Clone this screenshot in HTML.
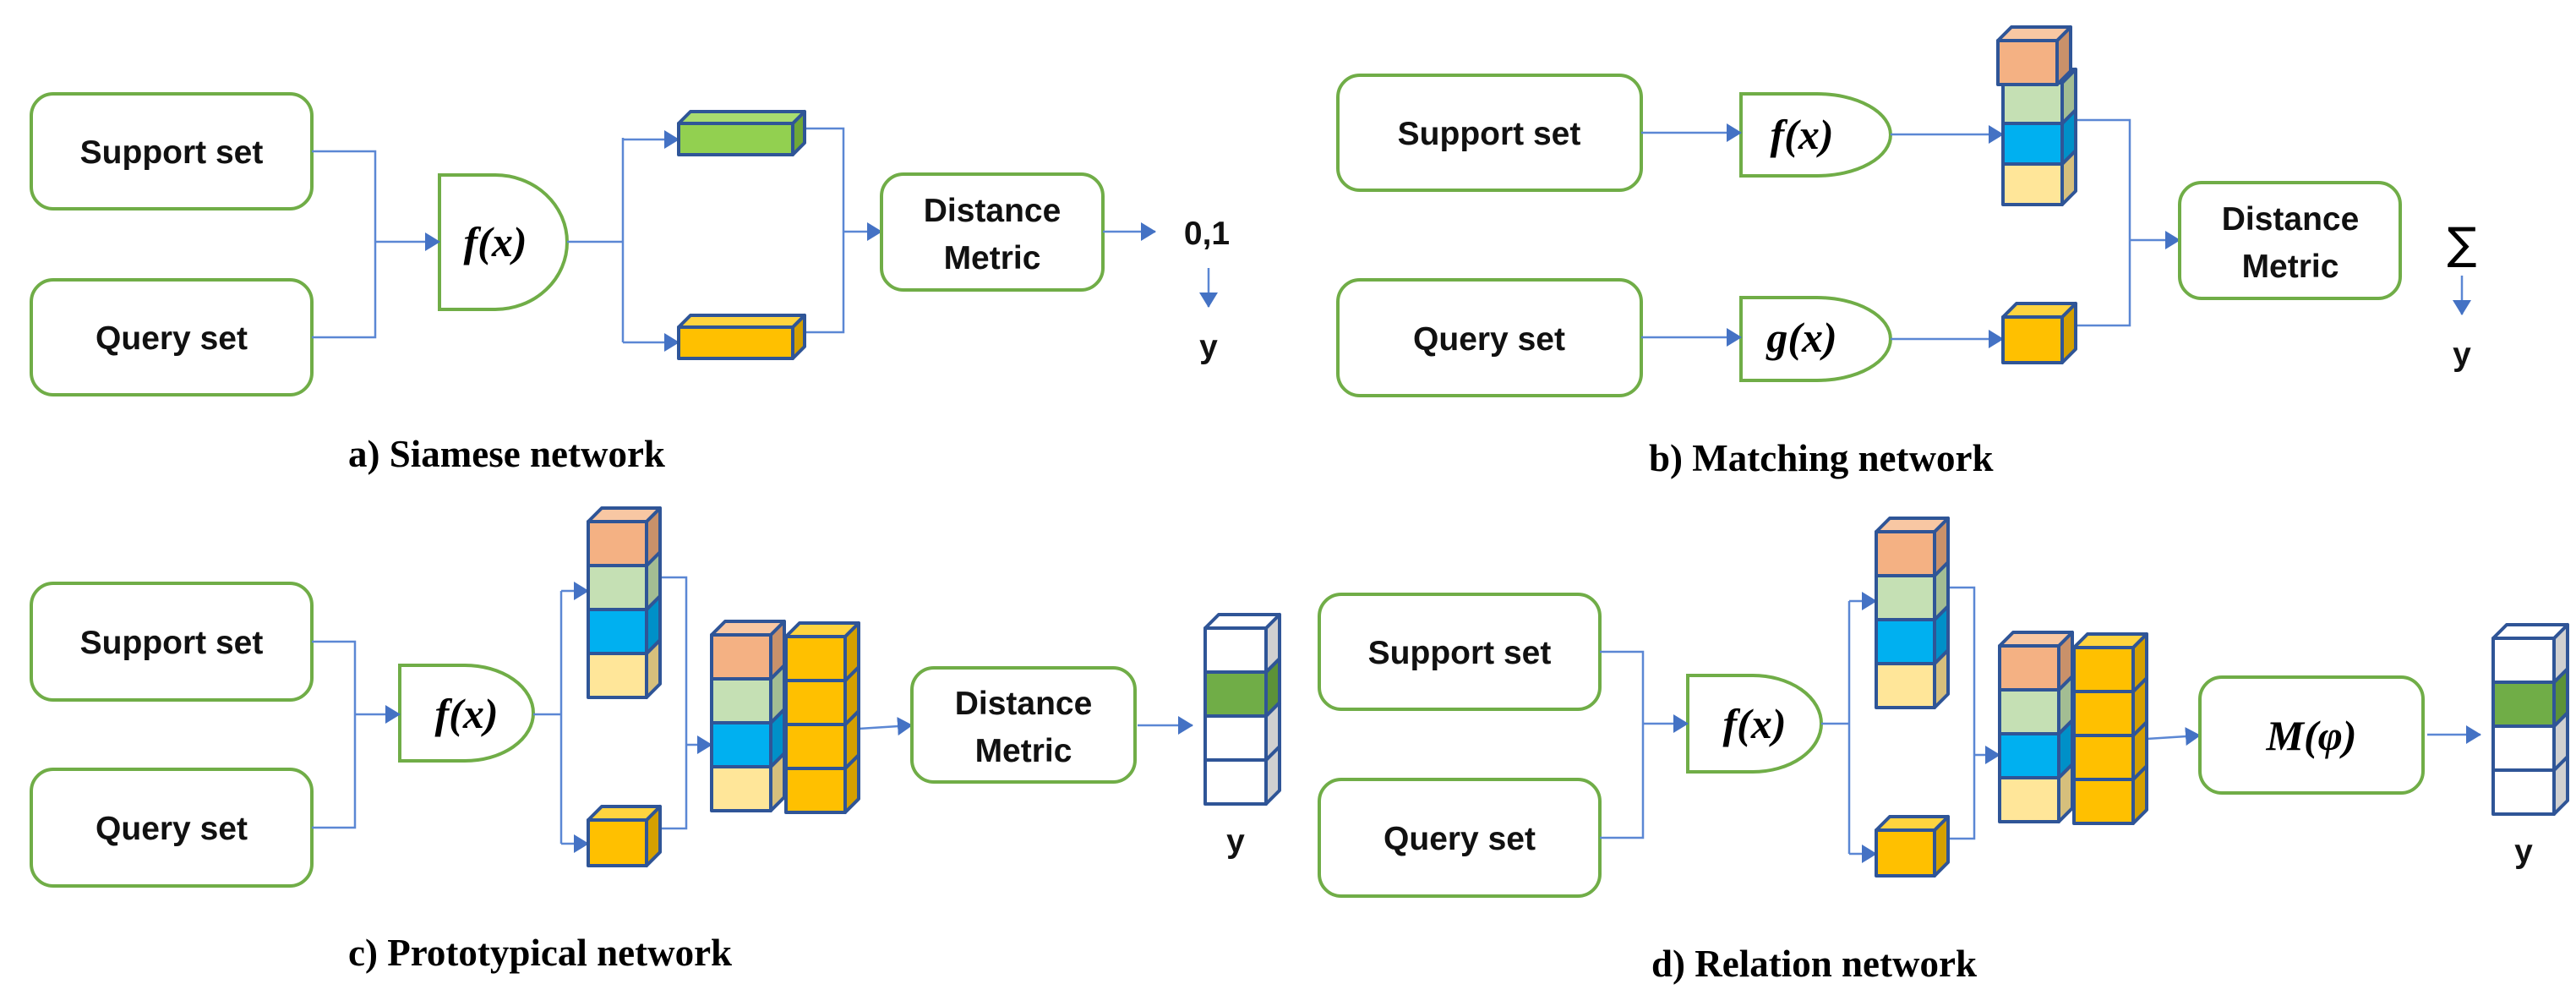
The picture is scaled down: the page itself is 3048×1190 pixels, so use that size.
<!DOCTYPE html>
<html><head><meta charset="utf-8"><style>
html,body{margin:0;padding:0;background:#fff;}
svg{display:block;}
.bx{fill:#fff;stroke:#70ad47;stroke-width:4;}
.ln{fill:none;stroke:#5b87d4;stroke-width:2.5;}
.lbl{font-family:"Liberation Sans",sans-serif;font-weight:bold;font-size:39px;fill:#111;text-anchor:middle;}
.fx{font-family:"Liberation Serif",serif;font-style:italic;font-weight:bold;font-size:50px;fill:#000;text-anchor:middle;}
.cap{font-family:"Liberation Serif",serif;font-weight:bold;font-size:45px;fill:#000;}
</style></head><body>
<svg id="s" width="3048" height="1190" viewBox="0 0 3048 1190" xmlns="http://www.w3.org/2000/svg">
<defs><marker id="ar" markerWidth="18" markerHeight="22" refX="17" refY="11" orient="auto" markerUnits="userSpaceOnUse"><path d="M0,0 L18,11 L0,22 Z" fill="#4472c4"/></marker></defs>

<!-- Panel a -->
<rect class="bx" x="37" y="111" width="332" height="136" rx="26"/>
<text class="lbl" x="203" y="193">Support set</text>
<rect class="bx" x="37" y="331" width="332" height="136" rx="26"/>
<text class="lbl" x="203" y="413">Query set</text>
<path class="bx" d="M520,207 L586,207 A85,79.5 0 0 1 586,366 L520,366 Z"/>
<text class="fx" x="586" y="303">f(x)</text>
<path class="ln" d="M369,179 H444 V399 H369"/>
<path class="ln" d="M444,286 H520" marker-end="url(#ar)"/>
<path class="ln" d="M671,286 H737 M737,163 V405"/>
<path class="ln" d="M737,165 H803" marker-end="url(#ar)"/>
<path class="ln" d="M737,405 H803" marker-end="url(#ar)"/>
<path class="ln" d="M952,152 H998 V393 H952"/>
<path class="ln" d="M998,274 H1043" marker-end="url(#ar)"/>
<rect class="bx" x="1043" y="206" width="262" height="137" rx="26"/>
<text class="lbl" x="1174" y="262">Distance</text>
<text class="lbl" x="1174" y="318">Metric</text>
<path class="ln" d="M1305,274 H1367" marker-end="url(#ar)"/>
<text class="lbl" x="1428" y="289">0,1</text>
<path class="ln" d="M1430,317 V363" marker-end="url(#ar)"/>
<text class="lbl" x="1430" y="423">y</text>
<text class="cap" x="412" y="552">a) Siamese network</text>

<!-- Panel b -->
<rect class="bx" x="1583" y="89" width="359" height="136" rx="26"/>
<text class="lbl" x="1762" y="171">Support set</text>
<rect class="bx" x="1583" y="331" width="359" height="137" rx="26"/>
<text class="lbl" x="1762" y="414">Query set</text>
<path class="bx" d="M2060,111 L2150,111 A87,48.5 0 0 1 2150,208 L2060,208 Z"/>
<text class="fx" x="2132" y="176">f(x)</text>
<path class="bx" d="M2060,352 L2150,352 A87,49 0 0 1 2150,450 L2060,450 Z"/>
<text class="fx" x="2132" y="416">g(x)</text>
<path class="ln" d="M1942,157 H2060" marker-end="url(#ar)"/>
<path class="ln" d="M1942,399 H2060" marker-end="url(#ar)"/>
<path class="ln" d="M2237,159 H2370" marker-end="url(#ar)"/>
<path class="ln" d="M2237,401 H2370" marker-end="url(#ar)"/>
<path class="ln" d="M2458,142 H2520 V385 H2458"/>
<path class="ln" d="M2520,284 H2579" marker-end="url(#ar)"/>
<rect class="bx" x="2579" y="216" width="261" height="137" rx="26"/>
<text class="lbl" x="2710" y="272">Distance</text>
<text class="lbl" x="2710" y="328">Metric</text>
<text x="2913" y="306" style="font-family:'DejaVu Sans',sans-serif;font-size:52px;text-anchor:middle">∑</text>
<path class="ln" d="M2913,326 V372" marker-end="url(#ar)"/>
<text class="lbl" x="2913" y="432">y</text>
<text class="cap" x="1951" y="557">b) Matching network</text>

<!-- Panel c -->
<rect class="bx" x="37" y="690" width="332" height="138" rx="26"/>
<text class="lbl" x="203" y="773">Support set</text>
<rect class="bx" x="37" y="910" width="332" height="138" rx="26"/>
<text class="lbl" x="203" y="993">Query set</text>
<path class="bx" d="M473,787 L550,787 A81,56.5 0 0 1 550,900 L473,900 Z"/>
<text class="fx" x="552" y="861">f(x)</text>
<path class="ln" d="M369,759 H420 V979 H369"/>
<path class="ln" d="M420,845 H473" marker-end="url(#ar)"/>
<path class="ln" d="M631,845 H664 M664,699 V998"/>
<path class="ln" d="M664,699 H696" marker-end="url(#ar)"/>
<path class="ln" d="M664,998 H696" marker-end="url(#ar)"/>
<path class="ln" d="M781,683 H812 V980 H781"/>
<path class="ln" d="M812,881 H842" marker-end="url(#ar)"/>
<path class="ln" d="M1016,862 L1079,858" marker-end="url(#ar)"/>
<rect class="bx" x="1079" y="790" width="264" height="135" rx="26"/>
<text class="lbl" x="1211" y="845">Distance</text>
<text class="lbl" x="1211" y="901">Metric</text>
<path class="ln" d="M1346,858 H1411" marker-end="url(#ar)"/>
<text class="lbl" x="1462" y="1008">y</text>
<text class="cap" x="412" y="1142">c) Prototypical network</text>

<!-- Panel d -->
<rect class="bx" x="1561" y="703" width="332" height="136" rx="26"/>
<text class="lbl" x="1727" y="785">Support set</text>
<rect class="bx" x="1561" y="922" width="332" height="138" rx="26"/>
<text class="lbl" x="1727" y="1005">Query set</text>
<path class="bx" d="M1997,799 L2074,799 A81,57 0 0 1 2074,913 L1997,913 Z"/>
<text class="fx" x="2076" y="873">f(x)</text>
<path class="ln" d="M1893,771 H1944 V991 H1893"/>
<path class="ln" d="M1944,856 H1997" marker-end="url(#ar)"/>
<path class="ln" d="M2155,856 H2188 M2188,711 V1010"/>
<path class="ln" d="M2188,711 H2220" marker-end="url(#ar)"/>
<path class="ln" d="M2188,1010 H2220" marker-end="url(#ar)"/>
<path class="ln" d="M2305,695 H2336 V992 H2305"/>
<path class="ln" d="M2336,893 H2366" marker-end="url(#ar)"/>
<path class="ln" d="M2540,874 L2603,870" marker-end="url(#ar)"/>
<rect class="bx" x="2603" y="801" width="264" height="137" rx="26"/>
<text class="fx" x="2735" y="887">M(φ)</text>
<path class="ln" d="M2872,869 H2935" marker-end="url(#ar)"/>
<text class="lbl" x="2986" y="1020">y</text>
<text class="cap" x="1954" y="1155">d) Relation network</text>
<g id="cubes"></g>
</svg>
<script>
var C={o:["#f4b183","#f8c7a3","#c9916a"],g:["#c5e0b4","#d6ead0","#a3bd93"],b:["#00b0f0","#33c1f3","#0090c8"],y:["#ffe699","#fff0bb","#d6bf7c"],k:["#ffc000","#ffd43f","#d4a000"],G:["#70ad47","#8cc466","#5c9238"],w:["#ffffff","#ffffff","#d0d0d0"],lg:["#92d050","#a8dc70","#6fa838"]};
var out="";
function cube(x,y,w,h,d,c){var s='stroke="#2f5597" stroke-width="4" stroke-linejoin="round"';
out+='<polygon points="'+(x+w)+','+(y+d)+' '+(x+w+d)+','+y+' '+(x+w+d)+','+(y+h)+' '+(x+w)+','+(y+h+d)+'" fill="'+c[2]+'" '+s+'/>';
out+='<polygon points="'+x+','+(y+d)+' '+(x+d)+','+y+' '+(x+w+d)+','+y+' '+(x+w)+','+(y+d)+'" fill="'+c[1]+'" '+s+'/>';
out+='<rect x="'+x+'" y="'+(y+d)+'" width="'+w+'" height="'+h+'" fill="'+c[0]+'" '+s+'/>';}
function stack(x,y,w,h,d,cols){for(var i=cols.length-1;i>=0;i--)cube(x,y+i*h,w,h,d,C[cols[i]]);}
cube(803,132,135,37,14,C.lg);
cube(803,373,135,37,14,C.k);
stack(2370,82,70,48,16,["g","b","y"]);
cube(2364,32,70,52,16,C.o);
cube(2370,359,70,54,16,C.k);
stack(696,601,69,52,16,["o","g","b","y"]);
cube(696,954,69,54,16,C.k);
stack(842,735,70,52,16,["o","g","b","y"]);
stack(930,737,70,52,16,["k","k","k","k"]);
stack(1426,727,72,52,16,["w","G","w","w"]);
stack(2220,613,69,52,16,["o","g","b","y"]);
cube(2220,966,69,54,16,C.k);
stack(2366,748,70,52,16,["o","g","b","y"]);
stack(2454,750,70,52,16,["k","k","k","k"]);
stack(2950,739,72,52,16,["w","G","w","w"]);
document.getElementById("cubes").innerHTML=out;
</script>
</body></html>
